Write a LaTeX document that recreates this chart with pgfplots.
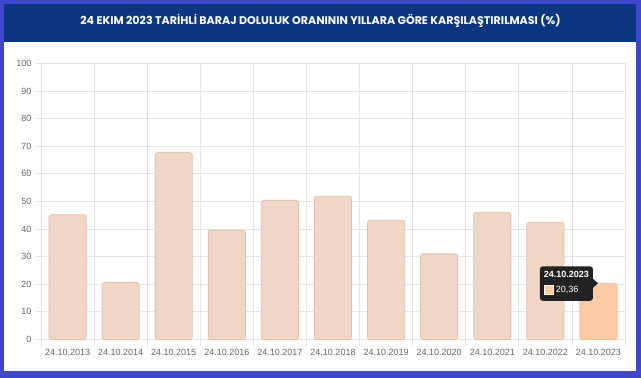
\documentclass[border=0pt]{standalone}
\usepackage{pgfplots}
\pgfplotsset{compat=1.18}
\usepackage{fontspec}
\setmainfont{Liberation Sans}
\newfontfamily\titlefont{Poppins}
\definecolor{bordercol}{RGB}{63,72,204}
\definecolor{navy}{RGB}{11,54,130}
\definecolor{gridcol}{RGB}{229,229,229}
\definecolor{labelcol}{RGB}{102,102,102}
\definecolor{barfill}{RGB}{242,214,197}
\definecolor{barline}{RGB}{224,192,175}
\definecolor{barhi}{RGB}{255,203,164}
\definecolor{barhiline}{RGB}{245,188,150}
\definecolor{tipcol}{RGB}{34,34,34}
\begin{document}
\begin{tikzpicture}[x=1pt,y=1pt]
\fill[bordercol] (0,0) rectangle (641,378);
\fill[white] (4,7) rectangle (636,336);
\fill[navy] (4,336) rectangle (636,374);
\node[white, font=\titlefont\bfseries\fontsize{11.1}{13}\selectfont, inner sep=0pt] at (320.5,357) {24 EKIM 2023 TARİHLİ BARAJ DOLULUK ORANININ YILLARA GÖRE KARŞILAŞTIRILMASI (\%)};
\begin{axis}[
  at={(41pt,38.5pt)}, anchor=south west,
  scale only axis, width=584pt, height=276pt,
  xmin=-0.5, xmax=10.5, ymin=0, ymax=100,
  ytick={0,10,...,100},
  xtick={0,...,10},
  xticklabels={24.10.2013,24.10.2014,24.10.2015,24.10.2016,24.10.2017,24.10.2018,24.10.2019,24.10.2020,24.10.2021,24.10.2022,24.10.2023},
  minor xtick={-0.5,0.5,...,10.5},
  xtick pos=lower, ytick pos=left,
  xmajorgrids=false, xminorgrids=true, ymajorgrids=true,
  grid style={draw=gridcol, line width=0.8pt},
  minor grid style={draw=gridcol, line width=0.8pt},
  axis line style={draw=none},
  major x tick style={draw=none},
  minor x tick style={draw=gridcol, line width=0.8pt},
  y tick style={draw=gridcol, line width=0.8pt},
  tick align=outside, major tick length=6pt, minor tick length=6pt,
  ticklabel style={text=labelcol, font=\fontsize{9}{10}\selectfont},
  /pgf/number format/assume math mode=true,
  clip=false,
]
\addplot[ybar, bar shift=0pt, bar width=0.7, fill=barfill, draw=barline, line width=0.8pt, rounded corners=2.5pt]
  coordinates {(0,45.2) (1,20.7) (2,67.7) (3,39.6) (4,50.4) (5,51.9) (6,43.2) (7,31.1) (8,46.1) (9,42.5)};
\addplot[ybar, bar shift=0pt, bar width=0.7, fill=barhi, draw=barhiline, line width=0.8pt, rounded corners=2.5pt]
  coordinates {(10,20.36)};
\coordinate (tip) at (axis cs:10,20.36);
\end{axis}
\fill[tipcol, rounded corners=3pt] ([shift={(-58.6pt,-17.5pt)}]tip) rectangle ([shift={(-5.5pt,17pt)}]tip);
\fill[tipcol] ([shift={(-6pt,5pt)}]tip) -- ([shift={(-0.5pt,0pt)}]tip) -- ([shift={(-6pt,-5pt)}]tip) -- cycle;
\node[white, font=\bfseries\fontsize{9}{10}\selectfont, inner sep=0pt] at ([shift={(-32pt,8.5pt)}]tip) {24.10.2023};
\filldraw[fill=barhi, draw=white, line width=0.8pt] ([shift={(-54.5pt,-2.5pt)}]tip) rectangle ([shift={(-45.5pt,-11.5pt)}]tip);
\node[white, font=\fontsize{9}{10}\selectfont, inner sep=0pt, anchor=west] at ([shift={(-42.8pt,-7pt)}]tip) {20,36};
\end{tikzpicture}
\end{document}
